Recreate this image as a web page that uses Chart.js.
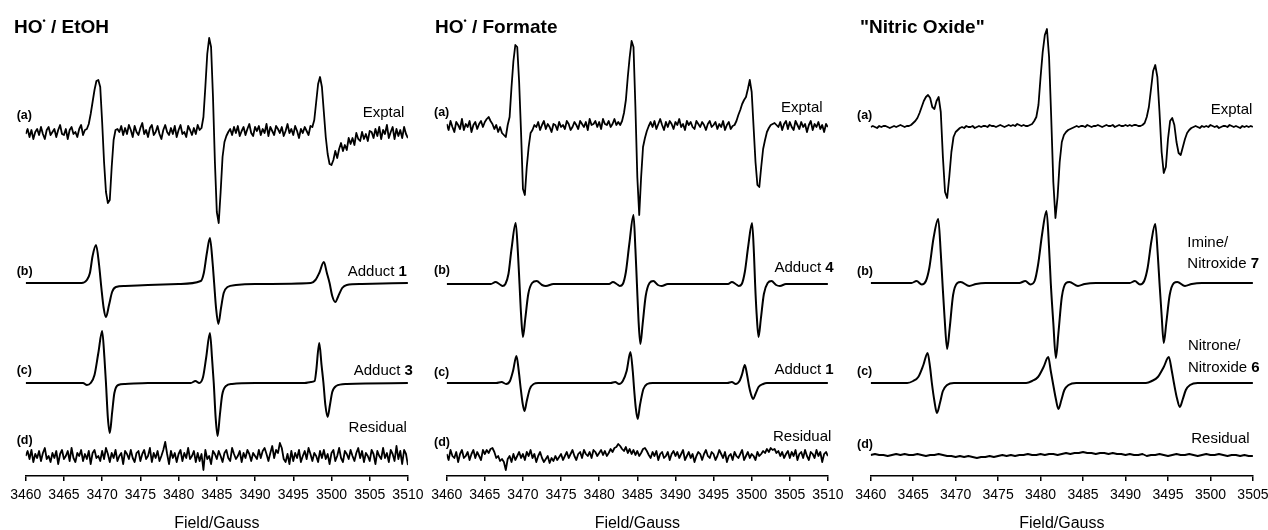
<!DOCTYPE html>
<html>
<head>
<meta charset="utf-8">
<script src="https://cdn.jsdelivr.net/npm/chart.js@4/dist/chart.umd.min.js"></script>
<style>
  body { margin: 0; background: #fff; width: 1268px; height: 530px; overflow: hidden; position: relative; }
  canvas { position: absolute; top: 0; }
</style>
</head>
<body>
<canvas id="p1" width="430" height="532" style="left:0px"></canvas>
<canvas id="p2" width="430" height="532" style="left:420px"></canvas>
<canvas id="p3" width="430" height="532" style="left:845px"></canvas>
<script>
// ---- data (signal in px above each trace's baseline) ----

// HO. / EtOH panel, sampled every 0.25 G from 3460
const etohExptal = [
  -2,3,-5,2,-7,0,3,-3,5,-2,-7,2,5,-3,0,3,-5,2,7,-2,-3,3,-7,2,5,-2,0,-5,3,7,-3,2,
  3,8,18,30,42,51,52,45,10,-30,-60,-71,-68,-35,-8,2,3,
  0,6,-3,4,-2,7,2,-5,6,0,-3,4,9,-2,2,-5,4,7,-3,0,6,-2,-7,2,7,0,-3,4,-2,6,-5,2,7,-2,0,-5,6,2,-3,4,-2,7,2,
  4,15,45,78,94,85,35,-30,-80,-91,-60,-25,-10,-4,0,
  3,-3,5,-1,6,-4,1,5,-3,3,8,-1,-4,5,1,6,-3,3,-1,8,-4,5,1,-3,6,3,-1,5,-4,1,8,-1,3,-3,6,1,-6,3,-1,5,1,-3,6,
  5,12,30,48,55,45,20,-5,-22,-32,-33,
  -28,-19,-26,-17,-11,-19,-13,-18,-6,-12,-6,-13,-1,-7,-9,0,-7,-2,-9,1,
  0,-6,3,-4,5,-7,2,-2,7,-6,0,5,-7,3,-4,2,-6,5,-2,-6
];
const etohResidual = [
  0,5,-3,6,-6,2,-2,5,-5,3,8,-3,0,-6,3,-2,5,-8,2,6,
  -3,0,5,-5,8,-2,-6,3,0,6,-5,2,-3,5,-8,3,6,-2,0,-5,
  5,-3,8,2,-6,3,-2,6,-5,0,3,-8,5,2,-3,6,-2,-6,3,5,
  -5,2,6,-3,0,8,-6,3,-2,5,-5,0,6,14,2,-8,5,-2,3,-6,
  2,6,-5,3,-2,8,-3,0,5,-6,3,-5,2,-14,6,-3,0,-8,5,2,
  -3,5,0,-6,3,6,-2,-5,8,2,-3,0,5,-6,3,-2,6,2,-5,3,
  0,-3,6,-2,5,8,2,-5,3,10,-2,6,3,13,8,-3,-6,2,-8,5,
  -5,3,-2,6,-6,0,5,-3,8,2,-5,3,0,-6,5,-2,6,-3,2,-8,
  3,6,-5,0,8,-2,-6,5,2,-3,6,0,-5,3,8,-2,5,-6,3,0,
  -5,6,2,-8,5,0,-3,8,-2,3,-6,6,2,-5,10,-3,5,-8,6,2,
  -9
];
const etohAdduct1 = [
  [3460,0],[3467.3,0],[3468.0,3],[3468.4,10],[3468.75,27],[3469.2,38],[3469.6,18],[3469.9,-5],
  [3470.2,-25],[3470.5,-34],[3470.9,-22],[3471.3,-9],[3471.8,-4],[3473,-3],[3476,-2],[3480,-1],
  [3482.9,2],[3483.3,10],[3483.7,30],[3484.1,45],[3484.45,20],[3484.65,0],[3484.9,-25],[3485.2,-41],
  [3485.55,-25],[3485.9,-10],[3486.4,-4],[3487.5,-2],[3490,-1],[3497.3,0],[3497.9,3],[3498.4,10],
  [3499.0,21],[3499.4,10],[3499.75,0],[3500.1,-13],[3500.5,-19],[3500.9,-13],[3501.4,-5],[3502,-2],
  [3504,-1],[3510,0]
];
const etohAdduct3 = [
  [3460,0],[3467.5,0],[3468.0,-2],[3468.5,0],[3469.0,8],[3469.5,30],[3470.0,52],[3470.3,25],
  [3470.5,0],[3470.75,-35],[3471.0,-50],[3471.3,-30],[3471.6,-10],[3472.1,-2],[3473,-1],[3476,0],
  [3481.6,0],[3482.2,2],[3482.7,0],[3483.2,6],[3483.6,25],[3484.1,50],[3484.4,22],[3484.6,0],
  [3484.85,-35],[3485.1,-53],[3485.4,-32],[3485.7,-12],[3486.2,-3],[3487,-1],[3490,0],[3496.5,0],
  [3497.3,1],[3497.8,2],[3498.0,12],[3498.4,40],[3498.7,18],[3498.95,0],[3499.2,-22],[3499.5,-34],
  [3499.8,-22],[3500.1,-9],[3500.6,-3],[3502,-1],[3510,0]
];

// HO. / Formate panel
const formateExptal = [
  3,-3,6,0,-5,5,2,-2,8,-3,3,0,6,-5,2,5,-2,3,6,0,5,8,10,6,3,-2,2,-5,0,-6,-8,
  -10,2,10,40,66,82,80,45,-5,-62,-68,-40,-20,-6,-3,2,
  0,5,-3,2,6,-2,3,0,-5,3,2,-3,5,0,2,-2,6,3,-3,0,5,2,-2,6,3,0,5,-3,8,2,3,6,0,5,-2,8,3,2,6,0,3,8,2,5,
  2,6,14,27,50,70,86,80,20,-50,-88,-50,-20,-11,-4,1,
  5,0,6,-2,3,8,2,-3,5,0,6,3,-2,5,2,8,0,3,-3,6,2,5,0,-2,6,3,0,5,2,-3,3,6,0,2,5,-2,3,0,6,-3,2,5,-2,
  1,2,6,12,17,23,27,30,38,47,35,0,-35,-58,-60,-40,-22,-13,-5,-1,2,3,4,2,
  0,5,-3,3,6,-2,5,0,-3,6,2,-2,5,0,3,-5,2,6,-3,3,0,5,-2,2,-5,3,0
];
const formateResidual = [
  2,-4,6,0,-2,4,-6,2,6,-2,0,4,-4,2,6,-2,4,0,-4,6,
  2,6,3,7,8,4,-2,0,-5,-3,-6,-14,-3,0,-6,2,-4,0,4,-2,
  2,-4,4,0,6,-2,2,-6,0,4,-2,-6,-3,0,-7,-2,-5,0,-4,-1,
  2,-4,0,4,-2,2,6,0,-4,2,4,-2,6,2,0,4,-2,6,4,0,
  3,6,1,5,0,3,7,4,8,9,12,10,7,5,9,3,7,2,6,1,
  5,0,3,7,8,5,1,-2,4,0,5,-4,2,4,-2,0,4,-4,2,5,
  0,4,-2,2,6,-4,0,4,-2,2,-6,0,4,2,-4,2,6,0,-2,4,
  2,-4,0,6,2,-2,4,-6,0,2,-4,4,0,-2,2,6,-4,0,4,-2,
  2,0,-4,4,0,2,5,3,7,4,8,6,7,3,5,0,4,-2,2,5,
  -2,4,0,6,-4,2,4,-2,6,0,-4,4,2,-2,6,0,4,-6,2,4,
  0
];
const formateAdduct4 = [
  [3460,0],[3465.8,0],[3466.4,2],[3466.9,0],[3467.3,-2],[3467.7,0],[3468.1,10],[3468.5,35],
  [3469.05,61],[3469.35,30],[3469.55,0],[3469.75,-30],[3470.0,-53],[3470.3,-35],[3470.7,-10],[3471.2,1],
  [3471.8,3],[3472.5,-1],[3473,-2],[3474,0],[3481.3,0],[3481.8,2],[3482.3,0],[3482.7,-2],
  [3483.1,0],[3483.5,12],[3483.95,40],[3484.5,69],[3484.75,35],[3484.95,0],[3485.15,-35],[3485.4,-60],
  [3485.7,-40],[3486.1,-12],[3486.6,1],[3487.1,3],[3487.7,-1],[3488.2,-2],[3489,0],[3496.9,0],
  [3497.4,2],[3497.9,0],[3498.3,-2],[3498.7,0],[3499.1,12],[3499.55,38],[3500.05,61],[3500.3,30],
  [3500.45,0],[3500.65,-30],[3500.9,-53],[3501.2,-35],[3501.6,-10],[3502.1,1],[3502.6,3],[3503.2,-1],
  [3503.7,-2],[3504.5,0],[3510,0]
];
const formateAdduct1 = [
  [3460,0],[3466.5,0],[3467.2,1],[3467.8,-1],[3468.3,2],[3468.7,12],[3469.15,27],[3469.45,12],
  [3469.7,-5],[3469.95,-20],[3470.2,-28],[3470.5,-18],[3470.9,-6],[3471.4,-1],[3472,0],[3481.5,0],
  [3482.1,1],[3482.6,-1],[3483.1,2],[3483.6,12],[3484.1,31],[3484.4,12],[3484.6,-8],[3484.8,-25],
  [3485.05,-36],[3485.35,-22],[3485.8,-6],[3486.3,-1],[3487,0],[3496.8,0],[3497.4,1],[3497.9,-1],
  [3498.4,2],[3498.75,9],[3499.1,18],[3499.4,8],[3499.65,-3],[3499.9,-11],[3500.2,-16],[3500.5,-11],
  [3500.9,-4],[3501.5,-1],[3502,0],[3510,0]
];

// "Nitric Oxide" panel (exptal every 0.25 G, residual every 0.5 G)
const noExptal = [
  0,1,0,-1,1,0,1,1,0,-1,0,1,0,1,2,1,
  0,1,1,2,4,6,9,14,20,26,30,32,29,20,18,26,30,15,-30,-65,-71,-50,-25,-10,-5,-3,-1,
  0,-1,1,0,0,1,-1,0,1,0,1,1,0,2,1,1,0,1,2,1,0,1,2,1,2,1,3,2,1,2,1,
  1,2,3,6,10,22,50,75,92,98,70,10,-55,-91,-70,-35,-15,-8,-5,-3,-2,-1,
  0,1,0,1,1,0,2,1,0,1,1,2,1,0,1,2,1,1,2,0,1,2,1,1,2,1,2,1,2,2,1,
  1,2,4,10,20,38,56,62,50,15,-25,-46,-40,-12,6,9,2,-15,-26,-28,-20,-12,-6,-3,-1,
  0,1,0,-1,1,0,1,0,2,1,0,1,-1,0,1,1,0,2,1,0,1,0,-1,1,0,1,0,1,0
];
const noResidual = [
  0,1,0,0,-1,0,1,0,1,0, 0,1,0,-1,0,0,1,0,-1,-1,
  -2,-1,-2,-1,-2,-3,-2,-2,-1,-2, -1,0,-1,0,-1,0,0,1,0,0,
  1,0,1,1,0,1,2,1,2,2, 3,2,2,1,2,2,1,2,1,1,
  0,1,0,0,1,-1,0,0,1,0, -1,0,1,0,0,1,0,-1,0,1,
  0,0,1,0,-1,0,0,-1,0,-1, -1
];
const noImine7 = [
  [3460,0],[3464.8,0],[3465.4,2],[3466.0,-1.5],[3466.5,2],[3466.9,15],[3467.4,45],[3467.95,64],
  [3468.25,30],[3468.45,0],[3468.7,-35],[3469.0,-66],[3469.3,-45],[3469.7,-12],[3470.2,0],[3470.6,1],
  [3471.6,-3],[3472.4,-1],[3473.5,0],[3477.5,0],[3478.2,2],[3478.8,-1.5],[3479.3,2],[3479.7,18],
  [3480.2,50],[3480.7,72],[3481.0,35],[3481.2,0],[3481.5,-40],[3481.8,-75],[3482.1,-50],[3482.5,-14],
  [3483.0,0],[3483.4,1],[3484.4,-3],[3485.2,-1],[3486.5,0],[3490.5,0],[3491.1,2],[3491.7,-1.5],
  [3492.2,2],[3492.6,15],[3493.05,42],[3493.5,59],[3493.8,28],[3494.0,0],[3494.25,-32],[3494.5,-60],
  [3494.8,-40],[3495.2,-12],[3495.7,0],[3496.1,1],[3497.0,-3],[3497.8,-1],[3499,0],[3505,0]
];
const noNitrone6 = [
  [3460,0],[3464.3,0],[3465.0,2],[3465.6,6],[3466.2,18],[3466.7,30],[3467.0,15],[3467.2,0],
  [3467.5,-18],[3467.8,-30],[3468.15,-20],[3468.5,-8],[3469.0,-2],[3469.8,0],[3478.3,0],[3479.0,2],
  [3479.7,6],[3480.35,16],[3480.9,26],[3481.2,12],[3481.45,0],[3481.8,-16],[3482.1,-26],[3482.45,-17],
  [3482.8,-7],[3483.3,-2],[3484.2,0],[3492.4,0],[3493.1,2],[3493.8,6],[3494.5,16],[3495.1,26],
  [3495.45,12],[3495.7,0],[3496.05,-15],[3496.4,-24],[3496.75,-16],[3497.1,-7],[3497.6,-2],[3498.5,0],
  [3505,0]
];

// axis ticks
const ticksTo3510 = [3460,3465,3470,3475,3480,3485,3490,3495,3500,3505,3510];
const ticksTo3505 = [3460,3465,3470,3475,3480,3485,3490,3495,3500,3505];

// ---- drawing ----
const FONT = '"Liberation Sans", Arial, Helvetica, sans-serif';
const tags = ['(a)', '(b)', '(c)', '(d)'];

function sampled(values, start, step, offset) {
  return values.map((v, i) => ({ x: start + i * step, y: v + offset }));
}
function paired(points, offset) {
  return points.map(p => ({ x: p[0], y: p[1] + offset }));
}
function noisy(data) {
  return { data, borderColor: '#000', borderWidth: 1.8, pointRadius: 0, tension: 0, borderJoinStyle: 'round' };
}
function smooth(data) {
  return { data, borderColor: '#000', borderWidth: 2, pointRadius: 0, cubicInterpolationMode: 'monotone' };
}

function drawParts(ctx, parts, x, y, align) {
  const widths = parts.map(p => { ctx.font = p.font; return ctx.measureText(p.text).width; });
  const total = widths.reduce((s, w) => s + w, 0);
  let cx = align === 'right' ? x - total : x;
  parts.forEach((p, i) => {
    ctx.font = p.font;
    ctx.textAlign = 'left';
    ctx.fillText(p.text, cx, y + (p.dy || 0));
    cx += widths[i];
  });
}

function textPlugin(cfg) {
  return {
    id: 'panelText',
    afterDraw(chart) {
      const { ctx, chartArea: a } = chart;
      const ys = chart.scales.y;
      ctx.save();
      ctx.fillStyle = '#000';
      ctx.textBaseline = 'alphabetic';
      drawParts(ctx, [
        { text: cfg.title[0], font: 'bold 19px ' + FONT },
        { text: cfg.title[1], font: 'bold 9px ' + FONT, dy: -9 },
        { text: cfg.title[2], font: 'bold 19px ' + FONT }
      ], a.left + cfg.titleDx, 33, 'left');
      ctx.textBaseline = 'middle';
      cfg.offsets.forEach((off, k) => {
        const base = ys.getPixelForValue(off);
        drawParts(ctx, [{ text: tags[k], font: 'bold 12.5px ' + FONT }], a.left + cfg.tagDx, base - cfg.tagDy[k], 'left');
        const n = cfg.names[k];
        n.lines.forEach((ln, j) => {
          drawParts(ctx, [
            { text: ln[0], font: '15px ' + FONT },
            { text: ln[1], font: 'bold 15px ' + FONT }
          ], a.right + n.dx, base - n.dy[j], n.align || 'right');
        });
      });
      ctx.restore();
    }
  };
}

function makePanel(id, range, tickList, datasets, pad, text) {
  new Chart(document.getElementById(id), {
    type: 'line',
    data: { datasets },
    options: {
      responsive: false,
      animation: false,
      events: [],
      layout: { padding: { left: pad[0], right: pad[1], top: 0, bottom: 0 } },
      plugins: { legend: { display: false }, tooltip: { enabled: false } },
      scales: {
        x: {
          type: 'linear',
          min: range[0],
          max: range[1],
          afterBuildTicks: s => { s.ticks = tickList.map(v => ({ value: v })); },
          ticks: {
            callback: v => String(v),
            color: '#000',
            font: { family: FONT, size: 14, lineHeight: 1.1 },
            padding: 6.5,
            maxRotation: 0,
            autoSkip: false
          },
          grid: { drawOnChartArea: false, drawTicks: true, tickLength: 5, color: '#000', lineWidth: 1.5 },
          border: { display: true, color: '#000', width: 1.5 },
          title: {
            display: true,
            text: 'Field/Gauss',
            color: '#000',
            font: { family: FONT, size: 16, lineHeight: 1 },
            padding: { top: 6.6, bottom: 0 }
          }
        },
        y: { type: 'linear', display: false, min: 0, max: 476 }
      }
    },
    plugins: [textPlugin(text)]
  });
}

// vertical stacking of the four traces in each panel
const etohOffsets = [344, 193, 93, 20];
const formateOffsets = [349, 192, 93, 20];
const noOffsets = [349, 193, 93, 21];

makePanel('p1', [3460, 3510], ticksTo3510, [
  noisy(sampled(etohExptal, 3460, 0.25, etohOffsets[0])),
  smooth(paired(etohAdduct1, etohOffsets[1])),
  smooth(paired(etohAdduct3, etohOffsets[2])),
  noisy(sampled(etohResidual, 3460, 0.25, etohOffsets[3]))
], [25.7, 20.7], {
  title: ['HO', '\u2022', ' / EtOH'], titleDx: -11.7,
  offsets: etohOffsets, tagDx: -9, tagDy: [16, 11, 12, 15],
  names: [
    { lines: [['Exptal', '']], dx: -3.6, dy: [19] },
    { lines: [['Adduct ', '1']], dx: -1, dy: [11] },
    { lines: [['Adduct ', '3']], dx: 5, dy: [12] },
    { lines: [['Residual', '']], dx: -1, dy: [28] }
  ]
});

makePanel('p2', [3460, 3510], ticksTo3510, [
  noisy(sampled(formateExptal, 3460, 0.25, formateOffsets[0])),
  smooth(paired(formateAdduct4, formateOffsets[1])),
  smooth(paired(formateAdduct1, formateOffsets[2])),
  noisy(sampled(formateResidual, 3460, 0.25, formateOffsets[3]))
], [26.7, 20.7], {
  title: ['HO', '\u2022', ' / Formate'], titleDx: -11.7,
  offsets: formateOffsets, tagDx: -12.7, tagDy: [14, 13, 10, 13],
  names: [
    { lines: [['Exptal', '']], dx: -5.3, dy: [19] },
    { lines: [['Adduct ', '4']], dx: 5.7, dy: [16] },
    { lines: [['Adduct ', '1']], dx: 5.7, dy: [13] },
    { lines: [['Residual', '']], dx: 3.4, dy: [19] }
  ]
});

makePanel('p3', [3460, 3505], ticksTo3505, [
  noisy(sampled(noExptal, 3460, 0.25, noOffsets[0])),
  smooth(paired(noImine7, noOffsets[1])),
  smooth(paired(noNitrone6, noOffsets[2])),
  noisy(sampled(noResidual, 3460, 0.5, noOffsets[3]))
], [25.7, 21.7], {
  title: ['"Nitric Oxide"', '', ''], titleDx: -10.7,
  offsets: noOffsets, tagDx: -13.7, tagDy: [11, 11, 11, 10],
  names: [
    { lines: [['Exptal', '']], dx: -0.6, dy: [17] },
    { lines: [['Imine/', ''], ['Nitroxide ', '7']], align: 'left', dx: -65.6, dy: [39.7, 18.7] },
    { lines: [['Nitrone/', ''], ['Nitroxide ', '6']], align: 'left', dx: -65, dy: [37.3, 15.3] },
    { lines: [['Residual', '']], dx: -3.3, dy: [15.7] }
  ]
});
</script>
</body>
</html>
